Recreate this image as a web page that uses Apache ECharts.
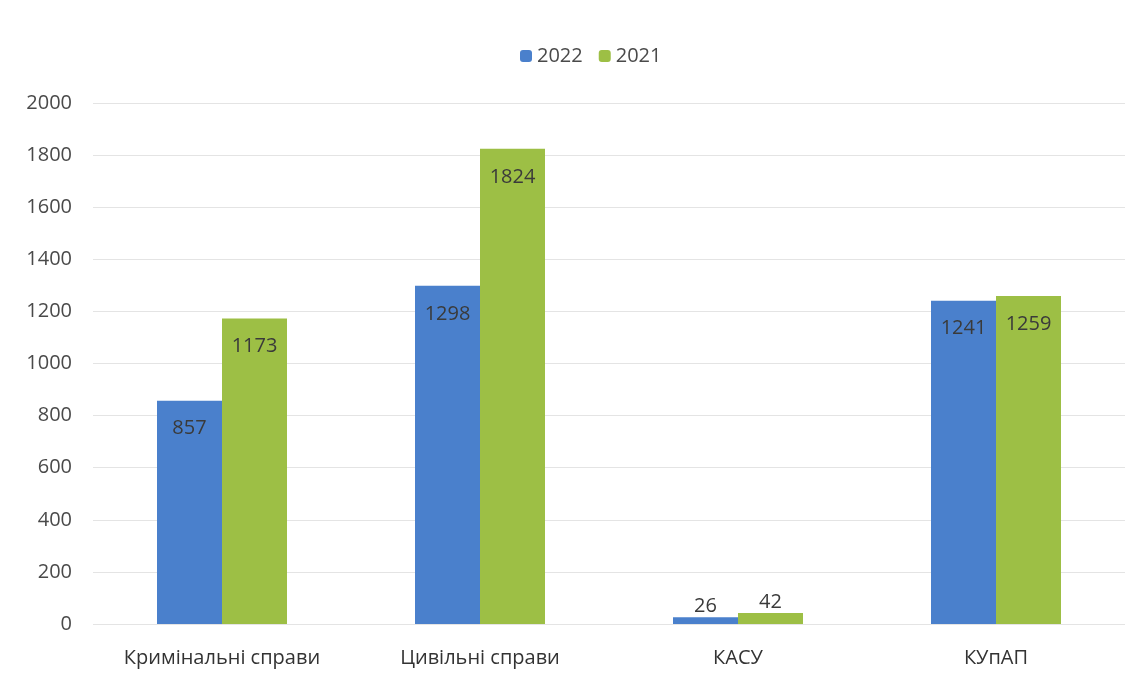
<!DOCTYPE html>
<html>
<head>
<meta charset="utf-8">
<script src="https://cdn.jsdelivr.net/npm/echarts@6/dist/echarts.min.js"></script>
<style>html,body{margin:0;padding:0;background:#fff}#c{width:1142px;height:686px}</style>
</head>
<body>
<div id="c"></div>
<script>
var categories = ['Кримінальні справи', 'Цивільні справи', 'КАСУ', 'КУпАП'];
var values2022 = [857, 1298, 26, 1241];
var values2021 = [1173, 1824, 42, 1259];
var yTicks = {min: 0, max: 2000, interval: 200};

var chart = echarts.init(document.getElementById('c'));
var font = 'Open Sans, Noto Sans, sans-serif';
function mk(vals) {
  return vals.map(function (v) {
    return v < 200 ? {value: v, label: {position: 'top', distance: 1}} : v;
  });
}
var lbl = {show: true, position: 'insideTop', distance: 18, color: '#3a3a3a', fontSize: 20, fontFamily: font};
chart.setOption({
  backgroundColor: '#ffffff',
  legend: {
    top: 41, left: 515, itemWidth: 12, itemHeight: 12, itemGap: 16,
    textStyle: {fontSize: 20, color: '#4a4a4a', fontFamily: font},
    data: ['2022', '2021']
  },
  grid: {left: 93, right: 17, top: 103, bottom: 62},
  xAxis: {
    type: 'category', data: categories,
    axisLine: {show: false}, axisTick: {show: false},
    axisLabel: {fontSize: 20, color: '#333', fontFamily: font, margin: 24}
  },
  yAxis: {
    type: 'value', min: yTicks.min, max: yTicks.max, interval: yTicks.interval,
    axisLabel: {fontSize: 20, color: '#4a4a4a', fontFamily: font, margin: 21,
      formatter: function (v) { return String(v); }},
    splitLine: {lineStyle: {color: '#e4e4e4', width: 1}},
    axisLine: {show: false}, axisTick: {show: false}
  },
  series: [
    {name: '2022', type: 'bar', data: mk(values2022), barWidth: 65, barGap: '0%',
     itemStyle: {color: '#4a80cc'}, label: lbl},
    {name: '2021', type: 'bar', data: mk(values2021), barWidth: 65,
     itemStyle: {color: '#9dbf45'}, label: lbl}
  ]
});
</script>
</body>
</html>
